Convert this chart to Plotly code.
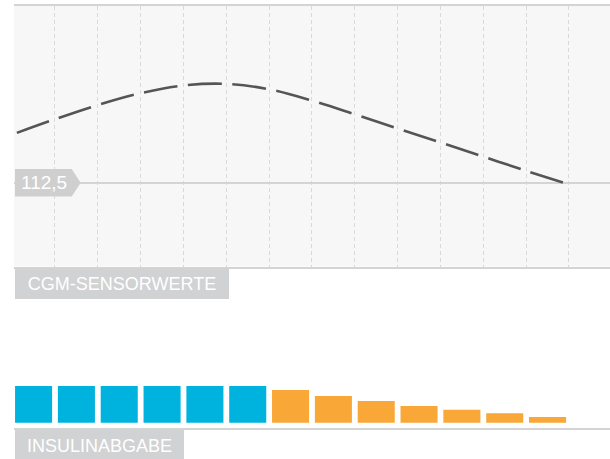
import plotly.graph_objects as go

# CGM sensor values (mg/dl), read at the interval boundaries
cgm_x = [-0.39, 0.5, 1.5, 2.5, 3.5, 4.5, 5.5, 6.5, 7.5, 8.5, 9.5, 10.5, 11.5, 12.37]
cgm_values = [131.8, 137.1, 142.6, 147.2, 150.2, 150.8, 148.7, 144.3, 139.0, 133.5, 128.1, 122.6, 117.1, 112.5]
target_value = 112.5
target_label = "112,5"

# insulin delivery per interval
basal_x = [0, 1, 2, 3, 4, 5]
basal_units = [1.0, 1.0, 1.0, 1.0, 1.0, 1.0]
reduced_x = [6, 7, 8, 9, 10, 11, 12]
reduced_units = [0.89, 0.73, 0.59, 0.455, 0.35, 0.26, 0.155]

interval_edges = [0.5, 1.5, 2.5, 3.5, 4.5, 5.5, 6.5, 7.5, 8.5, 9.5, 10.5, 11.5, 12.5]

W, H = 610, 459
FONT = "Liberation Sans"
LABEL_BG = "#d1d2d3"
LINE_GREY = "#d4d4d4"

fig = go.Figure()

fig.add_trace(go.Scatter(
    x=cgm_x, y=cgm_values, mode="lines",
    line=dict(color="#555555", width=2.6, shape="spline", dash="34px,10.5px"),
    xaxis="x", yaxis="y", hoverinfo="skip"
))

fig.add_trace(go.Bar(
    x=basal_x, y=basal_units, width=0.865,
    marker=dict(color="#00b3de", line_width=0),
    xaxis="x2", yaxis="y2", hoverinfo="skip"
))
fig.add_trace(go.Bar(
    x=reduced_x, y=reduced_units, width=0.865,
    marker=dict(color="#f9a737", line_width=0),
    xaxis="x2", yaxis="y2", hoverinfo="skip"
))

xdom = [14 / W, 1]
xrange = [-0.457, 13.458]

fig.update_layout(
    width=W, height=H,
    margin=dict(l=0, r=0, t=0, b=0),
    paper_bgcolor="white", plot_bgcolor="white",
    showlegend=False, barmode="overlay",
    font=dict(family=FONT, color="white"),
    xaxis=dict(
        domain=xdom, range=xrange, anchor="y",
        tickmode="array", tickvals=interval_edges, showticklabels=False, ticks="",
        showgrid=True, gridcolor="#d9d9d9", gridwidth=1, griddash="4px,3px",
        showline=True, linecolor=LINE_GREY, linewidth=2, mirror=True,
        zeroline=False,
    ),
    yaxis=dict(
        domain=[(H - 266.5) / H, (H - 6) / H], range=[80, 181], anchor="x",
        tickmode="array", tickvals=[target_value], showticklabels=False, ticks="",
        showgrid=True, gridcolor=LINE_GREY, gridwidth=2,
        showline=False, zeroline=False,
    ),
    xaxis2=dict(
        domain=xdom, range=xrange, anchor="y2", matches="x",
        showticklabels=False, ticks="", showgrid=False,
        showline=True, linecolor=LINE_GREY, linewidth=2,
        zeroline=False,
    ),
    yaxis2=dict(
        domain=[(H - 427.7) / H, (H - 330) / H], range=[-0.136, 2.526], anchor="x2",
        showticklabels=False, ticks="", showgrid=False,
        showline=False, zeroline=False,
    ),
    shapes=[
        # light background of the CGM panel
        dict(type="rect", xref="x domain", yref="y domain", x0=0, x1=1, y0=0, y1=1,
             fillcolor="#f7f7f7", line_width=0, layer="below"),
        # arrow-shaped tag for the target value
        dict(type="path", xref="paper", yref="y",
             xsizemode="pixel", ysizemode="pixel",
             xanchor=15 / W, yanchor=target_value,
             path="M0,-13.7 L56.7,-13.7 L65.7,0 L56.7,13.7 L0,13.7 Z",
             fillcolor="#cfcfcf", line_width=0, layer="above"),
    ],
    annotations=[
        dict(text=target_label, xref="paper", yref="y",
             x=43.5 / W, y=target_value, xanchor="center", yanchor="middle",
             showarrow=False, font=dict(size=19, color="white", family=FONT)),
        dict(text="CGM-SENSORWERTE", xref="paper", yref="paper",
             x=15 / W, y=(H - 268) / H, xanchor="left", yanchor="top",
             width=214, height=31, borderpad=0, borderwidth=0,
             bgcolor=LABEL_BG, showarrow=False, align="center", valign="middle",
             font=dict(size=18, color="white", family=FONT)),
        dict(text="INSULINABGABE", xref="paper", yref="paper",
             x=15 / W, y=(H - 430) / H, xanchor="left", yanchor="top",
             width=169, height=31, borderpad=0, borderwidth=0,
             bgcolor=LABEL_BG, showarrow=False, align="center", valign="middle",
             font=dict(size=18, color="white", family=FONT)),
    ],
)

fig.write_html(
    "out.html",
    config={"displayModeBar": False, "staticPlot": True},
    post_script="document.body.style.margin='0';",
)
